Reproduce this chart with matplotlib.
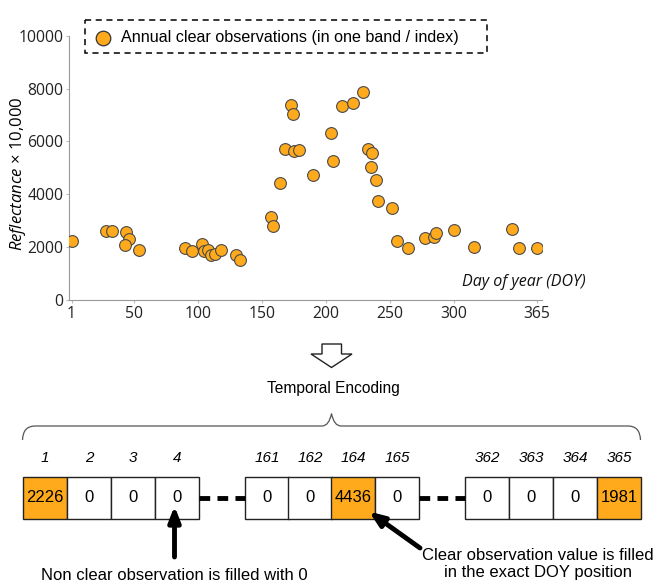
import matplotlib.pyplot as plt
from matplotlib.patches import Rectangle, Polygon, PathPatch
from matplotlib.path import Path

# annual clear observations (DOY, reflectance x 10,000)
doy = [1, 28, 33, 44, 46, 43, 54, 90, 95, 103, 105, 108, 110, 113, 118,
       130, 133, 157, 159, 164, 168, 173, 174, 175, 179, 190, 204, 206,
       213, 221, 229, 233, 236, 235, 239, 241, 252, 256, 264, 278, 285,
       286, 300, 316, 346, 351, 365]
refl = [2226, 2625, 2625, 2564, 2299, 2083, 1894, 1958, 1856, 2110, 1856,
        1894, 1692, 1742, 1894, 1705, 1515, 3132, 2803, 4436, 5732, 7387,
        7033, 5656, 5694, 4748, 6313, 5278, 7336, 7437, 7879, 5732, 5556,
        5050, 4533, 3763, 3497, 2246, 1958, 2337, 2398, 2538, 2652, 1996,
        2701, 1981, 1981]

xticks = [1, 50, 100, 150, 200, 250, 300, 365]
yticks = [0, 2000, 4000, 6000, 8000, 10000]

# encoded vector cells shown below the plot
cell_doy = ['1', '2', '3', '4', '161', '162', '164', '165', '362', '363', '364', '365']
cell_val = [2226, 0, 0, 0, 0, 0, 4436, 0, 0, 0, 0, 1981]

orange = '#FFAA1C'
W, H = 660, 585

plt.rcParams['mathtext.fontset'] = 'custom'
plt.rcParams['mathtext.it'] = 'Open Sans:italic'
plt.rcParams['mathtext.rm'] = 'Open Sans'

fig = plt.figure(figsize=(W / 100, H / 100), dpi=100)

# ---- scatter plot
ax = fig.add_axes([69 / W, (H - 300) / H, (541.7 - 69) / W, (300 - 35.7) / H])
ax.scatter(doy, refl, s=72, color=orange, edgecolor='#4a4a4a', linewidth=0.8, zorder=3)
ax.set_xlim(-1, 369)
ax.set_ylim(0, 10000)
ax.set_xticks(xticks)
ax.set_yticks(yticks)
for s in ['top', 'right']:
    ax.spines[s].set_visible(False)
for s in ['left', 'bottom']:
    ax.spines[s].set_color('#999999')
ax.tick_params(length=2, color='#bbbbbb', labelsize=11.3, pad=2)
for lab in ax.get_xticklabels() + ax.get_yticklabels():
    lab.set_family('Open Sans')
    lab.set_color('#222222')
ax.set_ylabel(r'$\mathit{Reflectance}$ × 10,000', fontsize=12, family='Open Sans')
ax.yaxis.label.set_va('center')
ax.yaxis.set_label_coords(-0.108, 0.477)

# ---- overlay for annotations in pixel coordinates
ov = fig.add_axes([0, 0, 1, 1], zorder=5)
ov.set_xlim(0, W)
ov.set_ylim(H, 0)
ov.axis('off')
ov.patch.set_alpha(0)

ov.text(586, 282, 'Day of year (DOY)', ha='right', va='center', fontsize=11.5,
        family='Open Sans', style='italic', color='#111111')

# legend box
ov.add_patch(Rectangle((85, 20), 402, 33, fill=False, ec='black', lw=1.1, ls=(0, (4, 3))))
ov.scatter([103], [37.5], s=110, color=orange, edgecolor='#333333', linewidth=0.9)
ov.text(121, 37.5, 'Annual clear observations (in one band / index)', ha='left', va='center',
        fontsize=11.6, family='Liberation Sans')

# hollow down arrow
arrow = [(322, 344), (341.5, 344), (341.5, 354), (352, 354), (331.5, 367.5),
         (311, 354), (322, 354)]
ov.add_patch(Polygon(arrow, closed=True, fill=False, ec='#222222', lw=1))
ov.text(333, 389, 'Temporal Encoding', ha='center', va='center', fontsize=11.2,
        family='Liberation Sans')

# brace
verts = [(22.5, 440), (23, 426), (35, 426), (322, 426), (329, 426), (331.5, 413.5),
         (334, 426), (341, 426), (628, 426), (640, 426), (640.5, 440)]
codes = [Path.MOVETO, Path.CURVE3, Path.CURVE3, Path.LINETO, Path.CURVE3, Path.CURVE3,
         Path.CURVE3, Path.CURVE3, Path.LINETO, Path.CURVE3, Path.CURVE3]
ov.add_patch(PathPatch(Path(verts, codes), fill=False, ec='#555555', lw=0.9))

# cells
cell_w = 44
starts = [23.3, 67.3, 111.3, 155.3, 245, 288, 331, 375, 465, 509, 553, 597]
y0, y1 = 476.5, 518.5
for x0, lab, val in zip(starts, cell_doy, cell_val):
    fc = orange if val != 0 else 'white'
    ov.add_patch(Rectangle((x0, y0), cell_w, y1 - y0, fc=fc, ec='#222222', lw=1))
    ov.text(x0 + cell_w / 2, 498, str(val), ha='center', va='center', fontsize=12,
            family='Liberation Sans')
    ov.text(x0 + cell_w / 2, 458, lab, ha='center', va='center', fontsize=11,
            family='Liberation Sans', style='italic')

# dashed connectors
for xa, xb in [(199.3, 245), (419, 465)]:
    ov.plot([xa, xb], [497.5, 497.5], color='black', lw=3.5, ls=(0, (2.2, 1.5)),
            solid_capstyle='butt', dash_capstyle='butt')

# pointer arrows
ov.annotate('', xy=(174.5, 506), xytext=(174.5, 557),
            arrowprops=dict(arrowstyle='-|>,head_length=0.9,head_width=0.35', lw=3.5,
                            color='black', shrinkA=0, shrinkB=0))
ov.annotate('', xy=(369, 511.5), xytext=(420, 548),
            arrowprops=dict(arrowstyle='-|>,head_length=0.9,head_width=0.35', lw=3.5,
                            color='black', shrinkA=0, shrinkB=0))

ov.text(174, 575, 'Non clear observation is filled with 0', ha='center', va='center',
        fontsize=12, family='Liberation Sans')
ov.text(538, 564, 'Clear observation value is filled\nin the exact DOY position',
        ha='center', va='center', fontsize=12, family='Liberation Sans', linespacing=1.1)

fig.savefig('out.png', dpi=100)
